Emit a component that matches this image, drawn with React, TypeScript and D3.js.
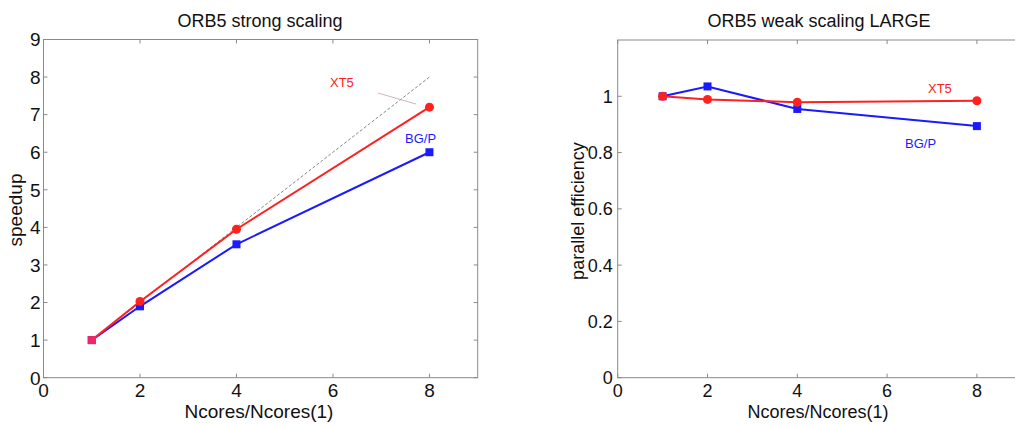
import React from "react";
import * as d3 from "d3";

const cores = [1, 2, 4, 8];
const strongXT5 = [1, 2.03, 3.95, 7.2];
const strongBGP = [1, 1.9, 3.55, 6.0];
const ideal = [1, 8];
const weakXT5 = [1.0, 0.989, 0.979, 0.984];
const weakBGP = [1.0, 1.035, 0.955, 0.894];
const xTicks = [0, 2, 4, 6, 8];
const strongYTicks = [0, 1, 2, 3, 4, 5, 6, 7, 8, 9];
const weakYTicks = [0, 0.2, 0.4, 0.6, 0.8, 1];

const RED = "#ff2020";
const BLUE = "#1a1aff";
const FONT = "Liberation Sans, Arial, sans-serif";

type Pt = [number, number];

function Panel(props: {
  x0: number; x1: number; y0: number; y1: number;
  xDomain: [number, number]; yDomain: [number, number];
  yTicks: number[]; title: string; titleX: number; xlabelX: number;
  fs: number; ytickGap: number;
  red: number[]; blue: number[]; ideal?: boolean;
  labels: { text: string; x: number; y: number; color: string }[];
  annot?: [number, number, number, number];
}) {
  const { x0, x1, y0, y1, fs } = props;
  const x = d3.scaleLinear().domain(props.xDomain).range([x0, x1]);
  const y = d3.scaleLinear().domain(props.yDomain).range([y1, y0]);
  const line = d3.line<Pt>().x((d) => x(d[0])).y((d) => y(d[1]));
  const redPts: Pt[] = cores.map((c, i) => [c, props.red[i]]);
  const bluePts: Pt[] = cores.map((c, i) => [c, props.blue[i]]);
  const idealPts: Pt[] = ideal.map((v) => [v, v]);
  const axisCol = "#8a8a8a";
  return (
    <g>
      <text x={props.titleX} y={27} textAnchor="middle" fontFamily={FONT} fontSize={18} fill="#111">{props.title}</text>
      <rect x={x0} y={y0} width={x1 - x0} height={y1 - y0} fill="none" stroke={axisCol} strokeWidth={1} />
      {xTicks.map((t) => (
        <g key={"xt" + t}>
          <line x1={x(t)} x2={x(t)} y1={y1} y2={y1 - 4} stroke={axisCol} />
          <line x1={x(t)} x2={x(t)} y1={y0} y2={y0 + 4} stroke={axisCol} />
          <text x={x(t)} y={y1 + 19.5} textAnchor="middle" fontFamily={FONT} fontSize={fs} fill="#111">{t}</text>
        </g>
      ))}
      {props.yTicks.map((t) => (
        <g key={"yt" + t}>
          <line x1={x0} x2={x0 + 4} y1={y(t)} y2={y(t)} stroke={axisCol} />
          <line x1={x1} x2={x1 - 4} y1={y(t)} y2={y(t)} stroke={axisCol} />
          <text x={x0 - props.ytickGap} y={y(t) + fs * 0.36} textAnchor="end" fontFamily={FONT} fontSize={fs} fill="#111">{String(t)}</text>
        </g>
      ))}
      <text x={props.xlabelX} y={418} textAnchor="middle" fontFamily={FONT} fontSize={fs} fill="#111">Ncores/Ncores(1)</text>
      {props.ideal && (
        <path d={line(idealPts) || ""} fill="none" stroke="#666" strokeWidth={0.8} strokeDasharray="3,2" />
      )}
      {props.annot && (
        <line x1={props.annot[0]} y1={props.annot[1]} x2={props.annot[2]} y2={props.annot[3]} stroke="#c8a0a8" strokeWidth={0.8} />
      )}
      <path d={line(bluePts) || ""} fill="none" stroke={BLUE} strokeWidth={2} />
      {bluePts.map((p, i) => (
        <rect key={"b" + i} x={x(p[0]) - 4} y={y(p[1]) - 4} width={8} height={8} fill={BLUE} />
      ))}
      <path d={line(redPts) || ""} fill="none" stroke={RED} strokeWidth={2} />
      {redPts.map((p, i) =>
        i === 0 && props.ideal ? (
          <rect key={"r" + i} x={x(p[0]) - 4} y={y(p[1]) - 4} width={8} height={8} fill="#ff2a5a" opacity={0.9} />
        ) : (
          <circle key={"r" + i} cx={x(p[0])} cy={y(p[1])} r={4.5} fill={RED} />
        )
      )}
      {props.labels.map((l) => (
        <text key={l.text} x={l.x} y={l.y} fontFamily={FONT} fontSize={13} fill={l.color}>{l.text}</text>
      ))}
    </g>
  );
}

export default function App() {
  return (
    <svg width={1015} height={425} style={{ position: "absolute", left: 0, top: 0, background: "#fff" }}>
      <rect width={1015} height={425} fill="#fff" />
      <Panel
        x0={43.5} x1={477.7} y0={39.5} y1={377.7}
        xDomain={[0, 9]} yDomain={[0, 9]} yTicks={strongYTicks}
        title="ORB5 strong scaling" titleX={260} xlabelX={259} fs={19} ytickGap={3}
        red={strongXT5} blue={strongBGP} ideal
        labels={[
          { text: "XT5", x: 330, y: 87, color: RED },
          { text: "BG/P", x: 405, y: 143, color: BLUE },
        ]}
        annot={[378, 93, 416, 104]}
      />
      <Panel
        x0={617.7} x1={1021.8} y0={40} y1={377.7}
        xDomain={[0, 9]} yDomain={[0, 1.2]} yTicks={weakYTicks}
        title="ORB5 weak scaling LARGE" titleX={819} xlabelX={818} fs={18} ytickGap={5}
        red={weakXT5} blue={weakBGP}
        labels={[
          { text: "XT5", x: 928, y: 93, color: RED },
          { text: "BG/P", x: 905, y: 148, color: BLUE },
        ]}
      />
      <text transform="translate(22,210) rotate(-90)" textAnchor="middle" fontFamily={FONT} fontSize={19} fill="#111">speedup</text>
      <text transform="translate(584,211) rotate(-90)" textAnchor="middle" fontFamily={FONT} fontSize={18} fill="#111">parallel efficiency</text>
    </svg>
  );
}
